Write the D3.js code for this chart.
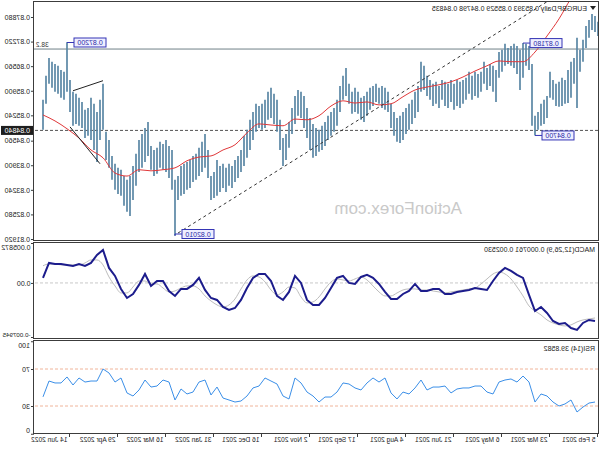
<!DOCTYPE html>
<html><head><meta charset="utf-8">
<script src="https://cdn.jsdelivr.net/npm/d3@7"></script>
<style>body{margin:0;background:#fff}svg{display:block}text{font-family:"Liberation Sans",Arial,sans-serif}</style>
</head><body>
<svg id="c" width="600" height="450"></svg>
<script>
// Bars (every 2nd daily bar), chronological from 5 Feb 2021
const highs=[
0.8775,0.8791,0.8796,0.8780,0.8764,0.8727,0.8700,0.8732,0.8678,0.8668,
0.8646,0.8619,0.8625,0.8614,0.8609,0.8619,0.8641,0.8576,0.8566,0.8555,
0.8533,0.8523,0.8662,0.8710,0.8716,0.8718,0.8700,0.8710,0.8716,0.8710,
0.8705,0.8716,0.8700,0.8694,0.8646,0.8657,0.8662,0.8651,0.8668,0.8641,
0.8635,0.8641,0.8630,0.8641,0.8625,0.8619,0.8614,0.8619,0.8609,0.8619,
0.8609,0.8614,0.8619,0.8603,0.8614,0.8609,0.8619,0.8630,0.8657,0.8668,
0.8603,0.8587,0.8566,0.8555,0.8544,0.8533,0.8523,0.8517,0.8533,0.8555,
0.8587,0.8598,0.8603,0.8598,0.8609,0.8603,0.8598,0.8587,0.8576,0.8571,
0.8587,0.8598,0.8587,0.8609,0.8651,0.8630,0.8603,0.8566,0.8544,0.8533,
0.8523,0.8506,0.8496,0.8485,0.8490,0.8501,0.8517,0.8544,0.8576,0.8587,
0.8592,0.8576,0.8544,0.8506,0.8474,0.8463,0.8512,0.8566,0.8582,0.8598,
0.8587,0.8566,0.8555,0.8549,0.8555,0.8533,0.8512,0.8485,0.8469,0.8431,
0.8415,0.8404,0.8388,0.8394,0.8383,0.8394,0.8388,0.8404,0.8372,0.8361,
0.8431,0.8474,0.8453,0.8437,0.8421,0.8415,0.8404,0.8399,0.8394,0.8388,
0.8361,0.8351,0.8431,0.8442,0.8458,0.8447,0.8453,0.8437,0.8431,0.8442,
0.8506,0.8490,0.8474,0.8458,0.8421,0.8388,0.8361,0.8351,0.8361,0.8378,
0.8383,0.8394,0.8415,0.8458,0.8480,0.8609,0.8566,0.8533,0.8555,0.8571,
0.8544,0.8539,0.8560,0.8571,0.8582,0.8587,0.8619,0.8720,0.8641,0.8646,
0.8657,0.8662,0.8668,0.8678,0.8630,0.8566];
const lows=[
0.8737,0.8748,0.8753,0.8732,0.8705,0.8668,0.8641,0.8544,0.8609,0.8571,
0.8557,0.8555,0.8549,0.8547,0.8549,0.8566,0.8571,0.8517,0.8501,0.8496,
0.8485,0.8470,0.8496,0.8646,0.8657,0.8625,0.8592,0.8635,0.8651,0.8657,
0.8662,0.8657,0.8641,0.8625,0.8560,0.8587,0.8603,0.8592,0.8609,0.8587,
0.8571,0.8576,0.8566,0.8582,0.8566,0.8555,0.8544,0.8549,0.8539,0.8560,
0.8544,0.8549,0.8566,0.8544,0.8555,0.8549,0.8566,0.8576,0.8592,0.8587,
0.8533,0.8517,0.8501,0.8485,0.8474,0.8458,0.8450,0.8453,0.8469,0.8490,
0.8533,0.8539,0.8544,0.8555,0.8560,0.8549,0.8539,0.8523,0.8506,0.8512,
0.8528,0.8533,0.8528,0.8555,0.8576,0.8566,0.8533,0.8496,0.8480,0.8469,
0.8458,0.8442,0.8431,0.8426,0.8415,0.8410,0.8431,0.8463,0.8490,0.8517,
0.8523,0.8501,0.8474,0.8437,0.8404,0.8388,0.8431,0.8480,0.8501,0.8517,
0.8512,0.8490,0.8485,0.8490,0.8480,0.8458,0.8431,0.8410,0.8388,0.8372,
0.8356,0.8345,0.8329,0.8335,0.8318,0.8329,0.8318,0.8308,0.8302,0.8297,
0.8356,0.8383,0.8372,0.8361,0.8351,0.8345,0.8329,0.8324,0.8313,0.8308,
0.8297,0.8201,0.8324,0.8356,0.8372,0.8378,0.8383,0.8367,0.8361,0.8378,
0.8415,0.8399,0.8383,0.8372,0.8335,0.8297,0.8254,0.8265,0.8281,0.8308,
0.8313,0.8324,0.8351,0.8383,0.8404,0.8485,0.8458,0.8399,0.8431,0.8458,
0.8469,0.8463,0.8490,0.8496,0.8501,0.8496,0.8533,0.8587,0.8566,0.8571,
0.8582,0.8587,0.8598,0.8609,0.8555,0.8485];
// Moving average (every 4th sampled bar)
const maVals=[0.8941,0.8893,0.8839,0.8783,0.8737,0.8694,0.8668,0.8668,0.8670,0.8657,
0.8643,0.8627,0.8614,0.8606,0.8600,0.8592,0.8574,0.8555,0.8552,0.8560,
0.8557,0.8563,0.8549,0.8523,0.8512,0.8514,0.8496,0.8498,0.8501,0.8477,
0.8445,0.8431,0.8415,0.8412,0.8402,0.8383,0.8378,0.8375,0.8378,0.8361,
0.8369,0.8410,0.8431,0.8463,0.8488,0.8509,0.8525];
// MACD main and signal (every 2nd sampled bar)
const macdVals=[-0.00559,-0.00544,-0.00588,-0.00691,-0.00662,-0.00588,-0.00603,-0.00559,-0.00441,-0.00353,
-0.00412,-0.00176,0.00074,0.00118,0.00176,0.00221,0.00147,0.00029,-0.00103,-0.00088,
-0.00074,-0.00103,-0.00118,-0.00132,-0.00162,-0.00162,-0.00088,-0.00088,-0.00118,-0.00118,
-0.00015,-0.00118,-0.00162,-0.00235,-0.00235,-0.00132,-0.00015,0.00074,0.00118,0.00088,
-0.00015,0.00000,0.00103,0.00074,-0.00074,-0.00221,-0.00323,-0.00323,-0.00250,0.00000,
0.00103,-0.00132,-0.00250,-0.00191,0.00029,0.00132,0.00132,0.00074,-0.00074,-0.00250,
-0.00368,-0.00397,-0.00353,-0.00250,-0.00221,-0.00103,0.00074,-0.00029,-0.00088,-0.00088,
-0.00191,-0.00118,0.00029,0.00029,-0.00044,0.00132,-0.00029,-0.00162,-0.00221,-0.00088,
0.00103,0.00221,0.00485,0.00412,0.00294,0.00250,0.00279,0.00250,0.00265,0.00279,
0.00279,0.00294,0.000761];
const signalVals=[-0.00515,-0.00529,-0.00544,-0.00573,-0.00617,-0.00632,-0.00617,-0.00588,-0.00544,-0.00470,
-0.00412,-0.00338,-0.00191,-0.00059,0.00059,0.00132,0.00162,0.00132,0.00059,-0.00015,
-0.00074,-0.00088,-0.00103,-0.00118,-0.00132,-0.00147,-0.00132,-0.00118,-0.00103,-0.00103,
-0.00088,-0.00088,-0.00103,-0.00147,-0.00191,-0.00191,-0.00132,-0.00044,0.00044,0.00088,
0.00059,0.00029,0.00044,0.00059,0.00015,-0.00088,-0.00206,-0.00279,-0.00294,-0.00206,
-0.00074,-0.00059,-0.00132,-0.00176,-0.00103,0.00015,0.00088,0.00103,0.00044,-0.00088,
-0.00235,-0.00323,-0.00353,-0.00323,-0.00265,-0.00191,-0.00088,-0.00044,-0.00044,-0.00074,
-0.00118,-0.00132,-0.00074,-0.00015,-0.00015,0.00029,0.00029,-0.00059,-0.00147,-0.00147,
-0.00044,0.00088,0.00265,0.00338,0.00338,0.00294,0.00265,0.00265,0.00265,0.00265,
0.00279,0.00279,0.002530];
// RSI(14)
const rsiVals=[34.3,33.2,28.9,23.5,36.5,32.2,30.0,34.3,40.8,43.0,
34.3,55.9,62.4,55.9,59.2,58.1,55.9,43.0,45.1,51.6,
51.6,49.5,49.5,48.4,44.1,51.6,50.5,50.5,47.3,58.1,
49.5,43.0,45.1,37.6,44.1,60.3,55.9,60.3,54.9,47.3,
49.5,53.8,54.9,45.1,39.7,39.7,34.3,40.8,45.1,54.9,
60.3,37.6,40.8,53.8,57.0,60.3,51.6,49.5,40.8,35.4,
34.3,36.5,38.6,50.5,41.9,58.1,55.9,45.1,43.0,48.4,
36.5,55.9,58.1,51.6,50.5,58.1,47.3,40.8,44.1,60.3,
55.9,65.7,70.0,57.0,57.0,55.9,60.3,52.7,61.4,54.9,
54.9,57.0,39.86];
const dateLabels=["5 Feb 2021","23 Mar 2021","6 May 2021","21 Jun 2021","4 Aug 2021","17 Sep 2021","2 Nov 2021","16 Dec 2021","31 Jan 2022","16 Mar 2022","29 Apr 2022","14 Jun 2022"];
const dateIdx=[0,16,32,48,64,80,96,112,128,144,160,176];
const priceTicks=[0.87880,0.87220,0.86560,0.85900,0.85240,0.84560,0.83900,0.83240,0.82580,0.81920];
const macdTicks=[0.005872,0,-0.007945];
const macdTickText=["0.005872","0.00","-0.007945"];
const rsiTicks=[100,70,30,0];
const markIdx=[177,25,21,141];
const markPrice=[0.87200,0.87180,0.84700,0.82010];
const markText=["0.87200","0.87180","0.84700","0.82010"];
const fibLevel=0.8702, fibText="38.2";
const lastPrice=0.84835, lastText="0.84840";
const trendSolid=[[165,0.8617,175,0.8590],[166,0.8394,176,0.8493]];
const trendDash=[140,0.8208,17,0.8829];
const headerMain="EURGBP,Daily  0.85393 0.85529 0.84798 0.84835";
const headerMacd="MACD(12,26,9) 0.000761 0.002530";
const headerRsi="RSI(14) 39.8582";

const svg=d3.select("#c");
const root=svg.append("g").attr("transform","translate(600,0) scale(-1,1)");
const x=d3.scaleLinear().domain([0,185]).range([2,557]);
const yP=d3.scaleLinear().domain([0.81920,0.87880]).range([239,17]);
const yM=d3.scaleLinear().domain([-0.007945,0.005872]).range([337,243]);
const yR=d3.scaleLinear().domain([0,100]).range([433.75,341.25]);
const FR="#3c3c3c";

// frames
[[1.5,240.5],[242.5,338.5],[340.5,433.5]].forEach(([a,b])=>{
  root.append("rect").attr("x",1.5).attr("y",a).attr("width",565).attr("height",b-a)
   .attr("fill","none").attr("stroke",FR).attr("stroke-width",1);
});
const defs=svg.append("defs");
defs.append("clipPath").attr("id","cm").append("rect").attr("x",2).attr("y",2).attr("width",564).attr("height",238);

// watermark
root.append("text").attr("x",138).attr("y",214).attr("font-size",17).attr("fill","#c9c9c9").text("ActionForex.com");

const main=root.append("g").attr("clip-path","url(#cm)");
// fib line
main.append("line").attr("x1",2).attr("x2",566).attr("y1",yP(fibLevel)).attr("y2",yP(fibLevel)).attr("stroke","#6f8088").attr("stroke-width",1);
// last price dashed
main.append("line").attr("x1",2).attr("x2",566).attr("y1",yP(lastPrice)).attr("y2",yP(lastPrice)).attr("stroke","#555").attr("stroke-dasharray","3,2");
// bars
main.selectAll("line.bar").data(highs).join("line").attr("class","bar")
 .attr("x1",(d,i)=>x(i)).attr("x2",(d,i)=>x(i)).attr("y1",d=>yP(d)).attr("y2",(d,i)=>yP(lows[i]))
 .attr("stroke","#5a87a5").attr("stroke-width",1.7);
// MA
main.append("path").datum(maVals).attr("fill","none").attr("stroke","#e0383a").attr("stroke-width",1)
 .attr("d",d3.line().x((d,k)=>x(4*k+1)).y(d=>yP(d)).curve(d3.curveMonotoneX));
// trend lines
trendSolid.forEach(t=>main.append("line").attr("x1",x(t[0])).attr("y1",yP(t[1])).attr("x2",x(t[2])).attr("y2",yP(t[3])).attr("stroke","#222").attr("stroke-width",1));
main.append("line").attr("x1",x(trendDash[0])).attr("y1",yP(trendDash[1])).attr("x2",x(trendDash[2])).attr("y2",yP(trendDash[3])).attr("stroke","#333").attr("stroke-dasharray","3,3");
// marks
markIdx.forEach((mi,j)=>{
  const bx=x(mi), py=yP(markPrice[j]);
  const cy=Math.max(42.5,Math.min(234,py));
  const right=bx-7, w=32, h=9;
  main.append("path").attr("d",`M${bx},${py}V${cy}H${right}`).attr("fill","none").attr("stroke","#3535b5");
  main.append("rect").attr("x",right-w).attr("y",cy-h/2).attr("width",w).attr("height",h).attr("fill","#eeeeff").attr("stroke","#3535b5").attr("stroke-width",1);
  main.append("text").attr("x",right-w/2).attr("y",cy+2.6).attr("text-anchor","middle").attr("font-size",7).attr("fill","#2a2aa5").text(markText[j]);
});
root.append("text").attr("x",564).attr("y",yP(fibLevel)-2.5).attr("text-anchor","end").attr("font-size",6.5).attr("fill","#333").text(fibText);

// header
root.append("path").attr("d","M4,6H10L7,10Z").attr("fill","#222");
root.append("text").attr("x",13).attr("y",10.5).attr("font-size",7).attr("fill","#222").text(headerMain);

// price axis
const pa=root.append("g").attr("transform","translate(566,0)")
 .call(d3.axisRight(yP).tickValues(priceTicks).tickSize(3).tickPadding(1).tickFormat(d3.format(".5f")));
pa.select(".domain").remove();
pa.selectAll("text").attr("font-size",7).attr("fill","#222").attr("font-family","Liberation Sans, Arial, sans-serif");
pa.selectAll("line").attr("stroke",FR);
// current price box
root.append("rect").attr("x",567).attr("y",yP(lastPrice)-4.5).attr("width",32).attr("height",9).attr("fill","#1e1e1e");
root.append("text").attr("x",570).attr("y",yP(lastPrice)+2.5).attr("font-size",7).attr("fill","#fff").text(lastText);

// MACD
root.append("line").attr("x1",2).attr("x2",566).attr("y1",yM(0)).attr("y2",yM(0)).attr("stroke","#c8c8c8").attr("stroke-dasharray","3,2");
root.append("path").datum(signalVals).attr("fill","none").attr("stroke","#bdbdbd").attr("stroke-width",1)
 .attr("d",d3.line().x((d,k)=>x(2*k+1)).y(d=>yM(d)).curve(d3.curveMonotoneX));
root.append("path").datum(macdVals).attr("fill","none").attr("stroke","#1c1c8c").attr("stroke-width",2)
 .attr("d",d3.line().x((d,k)=>x(2*k+1)).y(d=>yM(d)));
root.append("text").attr("x",5).attr("y",252).attr("font-size",7).attr("fill","#222").text(headerMacd);
const ma2=root.append("g").attr("transform","translate(566,0)")
 .call(d3.axisRight(yM).tickValues(macdTicks).tickSize(3).tickPadding(0.5).tickFormat((d,i)=>macdTickText[i]));
ma2.select(".domain").remove();
ma2.selectAll("text").attr("font-size",(d,i)=>i===2?6.2:7).attr("fill","#222").attr("font-family","Liberation Sans, Arial, sans-serif")
 .attr("dy",(d,i)=>i===0?"0.95em":(i===2?"-0.1em":"0.32em"));
ma2.selectAll("line").attr("stroke",FR);

// RSI
[70,30].forEach(v=>root.append("line").attr("x1",2).attr("x2",566).attr("y1",yR(v)).attr("y2",yR(v)).attr("stroke","#f0b49a").attr("stroke-dasharray","3,2"));
root.append("path").datum(rsiVals).attr("fill","none").attr("stroke","#3b8fe8").attr("stroke-width",1)
 .attr("d",d3.line().x((d,k)=>x(2*k+1)).y(d=>yR(d)));
root.append("text").attr("x",5).attr("y",351).attr("font-size",7).attr("fill","#222").text(headerRsi);
const ra=root.append("g").attr("transform","translate(566,0)")
 .call(d3.axisRight(yR).tickValues(rsiTicks).tickSize(3).tickPadding(1).tickFormat(d3.format("d")));
ra.select(".domain").remove();
ra.selectAll("text").attr("font-size",7).attr("fill","#222").attr("font-family","Liberation Sans, Arial, sans-serif")
 .attr("dy",(d,i)=>i===0?"0.9em":(i===3?"-0.2em":"0.32em"));
ra.selectAll("line").attr("stroke",FR);

// date axis
const da=root.append("g").attr("transform","translate(0,434)")
 .call(d3.axisBottom(x).tickValues(dateIdx).tickSize(3).tickPadding(2).tickFormat((d,i)=>dateLabels[i]));
da.select(".domain").remove();
da.selectAll("line").attr("stroke",FR);
da.selectAll("text").attr("font-size",6.6).attr("fill","#222").attr("font-family","Liberation Sans, Arial, sans-serif")
 .attr("text-anchor","start").attr("x",2).attr("y",3).attr("dy","0.71em");
</script>
</body></html>
